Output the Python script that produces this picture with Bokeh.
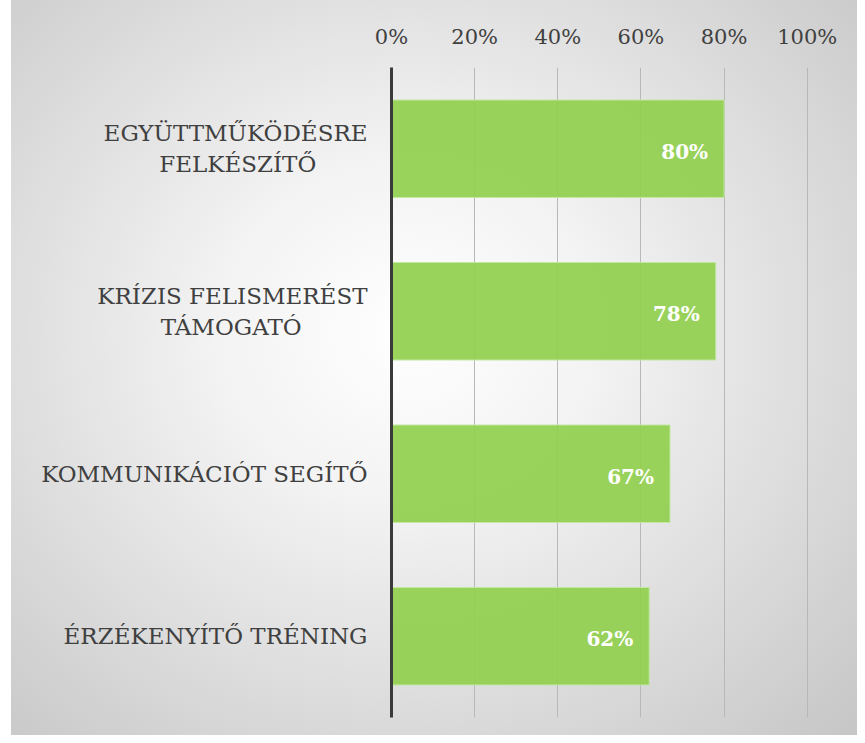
from bokeh.plotting import figure
from bokeh.models import Range1d, FactorRange, ColumnDataSource, NumeralTickFormatter, FixedTicker
from bokeh.core.properties import value
from bokeh.embed import file_html
from bokeh.resources import INLINE

NB = "\u00a0"
categories = ["EGYÜTTMŰKÖDÉSRE\nFELKÉSZÍTŐ" + NB * 7, "KRÍZIS FELISMERÉST\nTÁMOGATÓ" + NB * 9,
              "KOMMUNIKÁCIÓT SEGÍTŐ", "ÉRZÉKENYÍTŐ TRÉNING"]
values = [0.80, 0.78, 0.67, 0.62]
value_labels = ["80%", "78%", "67%", "62%"]
x_ticks = [0, 0.2, 0.4, 0.6, 0.8, 1.0]

FONT = "DejaVu Serif"

src = ColumnDataSource(dict(cat=categories, val=values, lab=value_labels))

p = figure(width=857, height=735, output_backend="svg", toolbar_location=None,
           x_range=Range1d(0, 1.02), y_range=FactorRange(*reversed(categories)),
           x_axis_location="above", min_border_left=391, min_border_top=67,
           min_border_right=42, min_border_bottom=18)
p.styles = {"background": "linear-gradient(#ffffff, #ffffff) 0 0 / 11px 100% no-repeat, "
                          "radial-gradient(ellipse at 47% 45%, #ffffff 0%, #f3f3f3 30%, #c6c6c6 100%) 11px 0 / 846px 100% no-repeat"}
p.background_fill_color = None
p.border_fill_color = None
p.outline_line_color = None

p.hbar(y="cat", right="val", left=0, height=0.6, source=src,
       fill_color="#92D050", fill_alpha=0.93, line_color="#c2e8a2", line_width=1)
p.text(x="val", y="cat", text="lab", source=src, x_offset=-16, y_offset=3,
       text_align="right", text_baseline="middle", text_color="white",
       text_font=value(FONT), text_font_style="bold", text_font_size="20px")

xa = p.xaxis[0]
xa.ticker = FixedTicker(ticks=x_ticks)
xa.formatter = NumeralTickFormatter(format="0%")
xa.axis_line_color = None
xa.major_tick_line_color = None
xa.minor_tick_line_color = None
xa.major_label_text_font = FONT
xa.major_label_text_font_size = "21px"
xa.major_label_text_color = "#404040"
xa.major_label_standoff = 13

ya = p.yaxis[0]
ya.axis_line_color = "#3a3a3a"
ya.axis_line_width = 3
ya.major_tick_line_color = None
ya.minor_tick_line_color = None
ya.major_label_text_font = FONT
ya.major_label_text_font_size = "23px"
ya.major_label_text_color = "#404040"
ya.major_label_text_line_height = 1.2
ya.major_label_standoff = 18

p.xgrid.ticker = FixedTicker(ticks=x_ticks)
p.xgrid.grid_line_color = "#b8b8b8"
p.ygrid.grid_line_color = None

open("out.html", "w").write(file_html(p, INLINE))
